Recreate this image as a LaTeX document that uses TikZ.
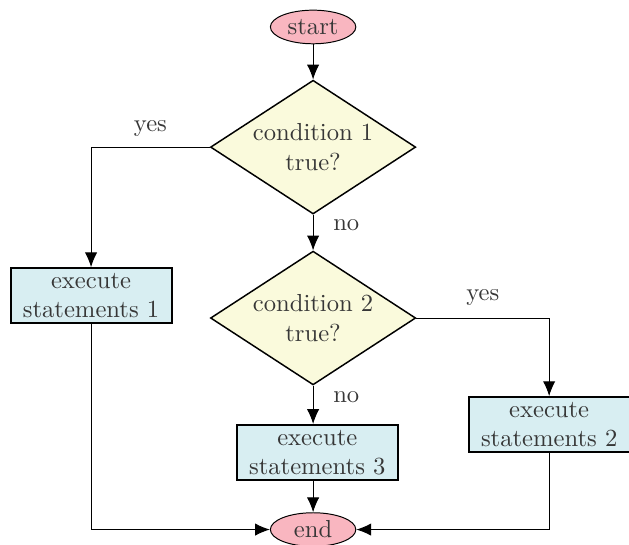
\documentclass[tikz,border=0pt]{standalone}
\usepackage{xcolor}
\definecolor{termpink}{RGB}{249,182,192}
\definecolor{decyellow}{RGB}{250,250,220}
\definecolor{boxcyan}{RGB}{216,238,242}
\definecolor{inkgray}{RGB}{55,55,55}
\usepackage{tikz}
\usetikzlibrary{positioning, arrows.meta, shapes.geometric}

\begin{document}
\begin{tikzpicture}[
  flow/.style={-{Latex[length=6pt, width=5pt]}, color=black},
  terminal/.style={ellipse, draw=black, fill=termpink, minimum width=1.22cm, minimum height=0.48cm, inner sep=0pt, text=inkgray},
  decision/.style={diamond, aspect=1.53, draw=black, semithick, fill=decyellow, minimum width=2.93cm, minimum height=1.91cm, inner sep=0pt, align=center, text=inkgray},
  process/.style={rectangle, draw=black, thick, fill=boxcyan, inner xsep=5pt, inner ysep=2pt, align=center, text=inkgray},
  answer/.style={text=inkgray, inner sep=2pt},
]
  \useasboundingbox (0, 0) rectangle (8.98, -7.78);

  % terminals
  \node[terminal] (start) at (4.47, -0.385) {start};
  \node[terminal] (end) at (4.47, -7.56) {end};

  % decisions
  \node[decision] (cond1) at (4.47, -2.10) {condition 1\\true?};
  \node[decision] (cond2) at (4.47, -4.54) {condition 2\\true?};

  % statements
  \node[process] (exec1) at (1.30, -4.22) {execute\\statements 1};
  \node[process] (exec2) at (7.84, -6.06) {execute\\statements 2};
  \node[process] (exec3) at (4.53, -6.46) {execute\\statements 3};

  % connectors
  \draw[flow] (start) -- (cond1);
  \draw[flow] (cond1.west) -- node[answer, midway, above=2pt] (yes1) {yes} (exec1.north |- cond1.west) -- (exec1.north);
  \draw[flow] (cond1.south) -- node[answer, pos=0.3, right=6pt] (no1) {no} (cond2.north);
  \draw[flow] (cond2.east) -- node[answer, midway, above=3pt] (yes2) {yes} (exec2.north |- cond2.east) -- (exec2.north);
  \draw[flow] (cond2.south) -- node[answer, pos=0.3, right=6pt] (no2) {no} (exec3.north -| cond2.south);
  \draw[flow] (exec3.south -| end.north) -- (end.north);
  \draw[flow] (exec1.south) -- (exec1.south |- end.west) -- (end.west);
  \draw[flow] (exec2.south) -- (exec2.south |- end.east) -- (end.east);
\end{tikzpicture}
\end{document}
